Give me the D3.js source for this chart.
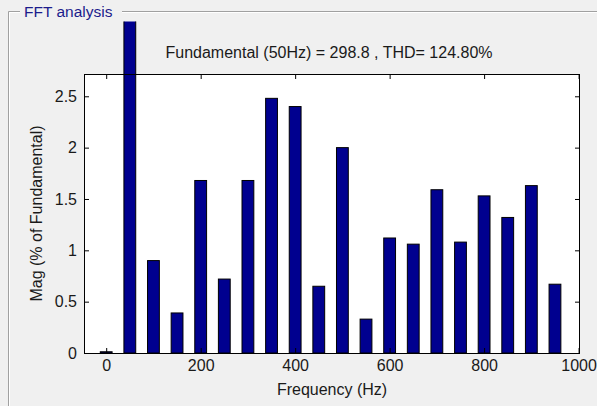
<!DOCTYPE html>
<html>
<head>
<meta charset="utf-8">
<script src="https://cdn.jsdelivr.net/npm/d3@7"></script>
<style>
  body { margin: 0; background: #f0f0f0; }
  svg { display: block; font-family: "Liberation Sans", Arial, sans-serif; }
</style>
</head>
<body>
<svg id="fft-viz"></svg>
<script>
// Harmonic spectrum, values (% of fundamental)
let freqs = [0, 50, 100, 150, 200, 250, 300, 350, 400, 450, 500,
             550, 600, 650, 700, 750, 800, 850, 900, 950];
let mags = [0.012, 100, 0.9, 0.39, 1.68, 0.72, 1.68, 2.48, 2.4, 0.65, 2.0,
            0.33, 1.12, 1.06, 1.59, 1.08, 1.53, 1.32, 1.63, 0.67];
let xTicks = [0, 200, 400, 600, 800, 1000];
let yTicks = [0, 0.5, 1, 1.5, 2, 2.5];
let titleText = 'Fundamental (50Hz) = 298.8 , THD= 124.80%';

let width = 597;
let height = 406;
let margin = {top: 74, right: 17, bottom: 53, left: 84};

let svg = d3.select('#fft-viz')
    .attr('width', width)
    .attr('height', height);

// group box frame ("FFT analysis" panel)
let frame = svg.append('g');
frame.append('path')
    .attr('d', 'M8.5,406 V11.5 H20 M122,11.5 H597')
    .attr('fill', 'none')
    .attr('stroke', '#a0a0a0');
frame.append('path')
    .attr('d', 'M9.5,406 V12.5 H20 M122,12.5 H597')
    .attr('fill', 'none')
    .attr('stroke', '#ffffff');
frame.append('text')
    .attr('x', 24)
    .attr('y', 17)
    .attr('font-size', 15.5)
    .attr('fill', '#1c1c8c')
    .text('FFT analysis');

let x = d3.scaleLinear()
    .domain([-47, 1003])
    .range([margin.left, width - margin.right]);

let y = d3.scaleLinear()
    .domain([0, 2.717])
    .range([height - margin.bottom, margin.top]);

// plot background
svg.append('rect')
    .attr('x', margin.left)
    .attr('y', margin.top)
    .attr('width', width - margin.left - margin.right)
    .attr('height', height - margin.top - margin.bottom)
    .attr('fill', '#fff');

// the fundamental bar runs past the top of the axes, clip it near the panel top
svg.append('clipPath').attr('id', 'bar-clip')
    .append('rect')
    .attr('x', 0)
    .attr('y', 21.5)
    .attr('width', width)
    .attr('height', height);

let barW = x(25) - x(0);

svg.append('g')
    .attr('clip-path', 'url(#bar-clip)')
    .selectAll('rect')
    .data(freqs.map((f, i) => ({f: f, m: mags[i]})))
    .enter().append('rect')
    .attr('x', d => x(d.f) - barW / 2)
    .attr('y', d => y(d.m))
    .attr('width', barW)
    .attr('height', d => y(0) - y(d.m))
    .attr('fill', '#00008f')
    .attr('stroke', '#000')
    .attr('stroke-width', 1);

// axes, MATLAB style: ticks pointing inward on all four sides
let fmtY = d => String(d);
let fmtX = d3.format('d');

let bottomAxis = svg.append('g')
    .attr('transform', `translate(0,${height - margin.bottom})`)
    .call(d3.axisBottom(x).tickValues(xTicks).tickSize(-5).tickPadding(7).tickFormat(fmtX));
let topAxis = svg.append('g')
    .attr('transform', `translate(0,${margin.top})`)
    .call(d3.axisTop(x).tickValues(xTicks).tickSize(-5).tickFormat(''));
let leftAxis = svg.append('g')
    .attr('transform', `translate(${margin.left},0)`)
    .call(d3.axisLeft(y).tickValues(yTicks).tickSize(-5).tickPadding(7).tickFormat(fmtY));
let rightAxis = svg.append('g')
    .attr('transform', `translate(${width - margin.right},0)`)
    .call(d3.axisRight(y).tickValues(yTicks).tickSize(-5).tickFormat(''));

[bottomAxis, topAxis, leftAxis, rightAxis].forEach(a => {
    a.select('.domain').remove();
    a.selectAll('line').attr('stroke', '#000');
    a.selectAll('text')
        .attr('font-size', 16)
        .attr('font-family', '"Liberation Sans", Arial, sans-serif')
        .attr('fill', '#1a1a1a');
});

// axes box
svg.append('rect')
    .attr('x', margin.left + 0.5)
    .attr('y', margin.top + 0.5)
    .attr('width', width - margin.left - margin.right - 1)
    .attr('height', height - margin.top - margin.bottom)
    .attr('fill', 'none')
    .attr('stroke', '#000');

// title and axis labels
let midX = (margin.left + width - margin.right) / 2;
svg.append('text')
    .attr('x', midX - 3)
    .attr('y', 58)
    .attr('text-anchor', 'middle')
    .attr('font-size', 16)
    .attr('fill', '#1a1a1a')
    .text(titleText);

svg.append('text')
    .attr('x', midX)
    .attr('y', 395)
    .attr('text-anchor', 'middle')
    .attr('font-size', 16)
    .attr('fill', '#1a1a1a')
    .text('Frequency (Hz)');

svg.append('text')
    .attr('transform', `translate(42,${(margin.top + height - margin.bottom) / 2}) rotate(-90)`)
    .attr('text-anchor', 'middle')
    .attr('font-size', 16)
    .attr('fill', '#1a1a1a')
    .text('Mag (% of Fundamental)');
</script>
</body>
</html>
